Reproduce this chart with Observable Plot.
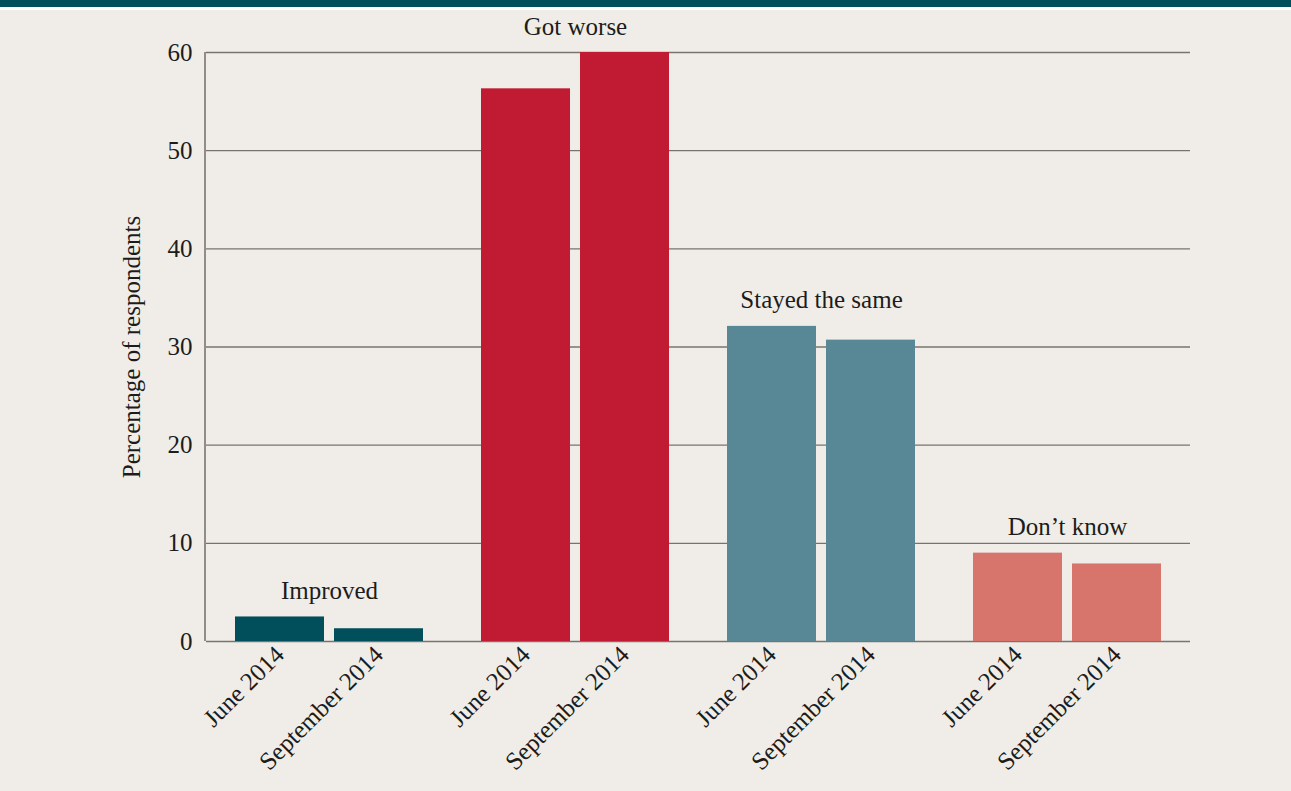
<!DOCTYPE html>
<html>
<head>
<meta charset="utf-8">
<script src="https://cdn.jsdelivr.net/npm/d3@7"></script>
<script src="https://cdn.jsdelivr.net/npm/@observablehq/plot@0.6"></script>
<style>
  html, body { margin: 0; padding: 0; background: #f0ede8; }
  #band { height: 7px; background: #024f5c; }
  #gap { height: 3px; background: #ffffff; }
  #chart svg { display: block; }
</style>
</head>
<body>
<div id="band"></div>
<div id="gap"></div>
<div id="chart"></div>
<script>
const groups = ["Improved", "Got worse", "Stayed the same", "Don\u2019t know"];
const periods = ["June 2014", "September 2014"];
const june = [2.5, 56.3, 32.1, 9.0];
const september = [1.3, 60, 30.7, 7.9];
const groupColors = ["#024f5c", "#c01b33", "#588895", "#d7756d"];
const yTicks = [0, 10, 20, 30, 40, 50, 60];

const rows = [];
groups.forEach((g, i) => {
  rows.push({group: g, period: periods[0], value: june[i]});
  rows.push({group: g, period: periods[1], value: september[i]});
});
const tops = groups.map((g, i) => ({group: g, top: Math.max(june[i], september[i])}));

const font = "'Liberation Serif', 'DejaVu Serif', serif";
const ink = "#1c1c1c";
const lineColor = "#78736e";

const chart = Plot.plot({
  width: 1291,
  height: 781,
  marginLeft: 205,
  marginRight: 101,
  marginTop: 42,
  marginBottom: 150,
  style: {fontFamily: font, fontSize: "25px", color: ink, background: "transparent"},
  fx: {domain: groups, padding: 0, axis: null},
  x: {domain: periods, paddingInner: 0.1, paddingOuter: 0.29},
  y: {domain: [0, 60]},
  color: {domain: groups, range: groupColors},
  marks: [
    Plot.gridY(yTicks, {stroke: lineColor, strokeOpacity: 1, strokeWidth: 1.4}),
    Plot.barY(rows, {fx: "group", x: "period", y: "value", fill: "group"}),
    Plot.axisY({ticks: yTicks, tickSize: 0, tickPadding: 14, label: "Percentage of respondents",
      labelAnchor: "center", labelArrow: "none", labelOffset: 84, fontSize: 25}),
    Plot.axisX({tickSize: 0, tickPadding: 9, tickRotate: -45, label: null, fontSize: 25}),
    Plot.text(tops, {fx: "group", y: "top", text: "group", dy: -26, fontSize: 25, fill: ink})
  ]
});

// vertical axis line along the left edge of the plot area, placed with the y scale
const ys = chart.scale("y");
d3.select(chart).append("line")
  .attr("x1", 205).attr("x2", 205)
  .attr("y1", ys.apply(0)).attr("y2", ys.apply(60))
  .attr("stroke", lineColor).attr("stroke-width", 1.6);

document.getElementById("chart").appendChild(chart);
</script>
</body>
</html>
